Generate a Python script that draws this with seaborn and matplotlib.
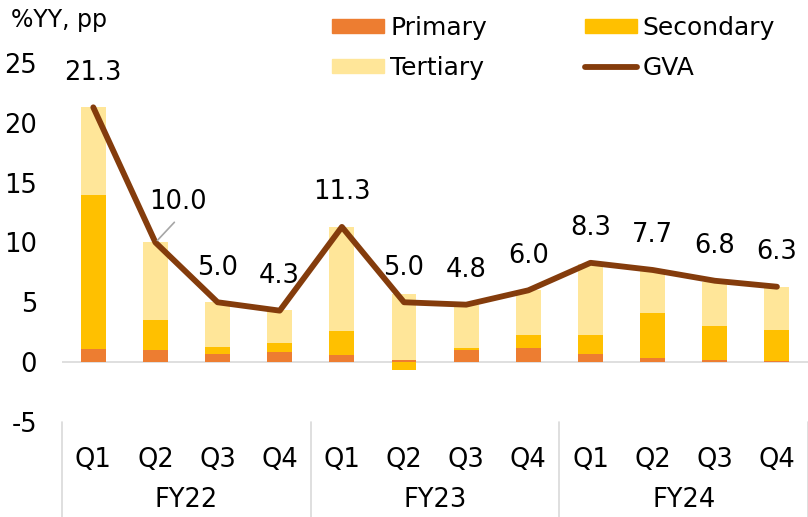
import matplotlib
matplotlib.use("Agg")
import matplotlib.pyplot as plt
import matplotlib.transforms as mtransforms
from matplotlib.patches import Patch
from matplotlib.lines import Line2D
import numpy as np
import pandas as pd
import seaborn as sns

# data
years = ["FY22", "FY23", "FY24"]
quarters = ["Q1", "Q2", "Q3", "Q4"]
primary = [1.1, 1.0, 0.7, 0.85, 0.55, 0.15, 1.0, 1.2, 0.65, 0.35, 0.15, 0.05]
secondary = [12.9, 2.55, 0.55, 0.75, 2.05, -0.7, 0.15, 1.1, 1.65, 3.75, 2.85, 2.6]
tertiary = [7.3, 6.45, 3.75, 2.75, 8.7, 5.5, 3.65, 3.7, 5.9, 3.65, 3.7, 3.6]
gva = [21.3, 10.0, 5.0, 4.3, 11.3, 5.0, 4.8, 6.0, 8.3, 7.7, 6.8, 6.3]

C_PRI = "#ED7D31"
C_SEC = "#FFC000"
C_TER = "#FFE699"
C_GVA = "#843C0C"

sns.set_theme(style="white")
plt.rcParams["font.family"] = ["DejaVu Sans"]
plt.rcParams["text.color"] = "black"
plt.rcParams["xtick.color"] = "black"
plt.rcParams["ytick.color"] = "black"

cats = [f"{y} {q}" for y in years for q in quarters]
p = np.array(primary)
s = np.array(secondary)
t = np.array(tertiary)
s_pos = np.clip(s, 0, None)
s_neg = np.clip(s, None, 0)

df = pd.DataFrame({
    "cat": cats,
    "top_ter": p + s_pos + t,
    "top_sec": p + s_pos,
    "top_pri": p,
    "neg_sec": s_neg,
    "gva": gva,
})

fig = plt.figure(figsize=(8.08, 5.17), dpi=100)
ax = fig.add_axes([0.077, 0.184, 0.923, 0.694])

# stacked bars drawn as layered cumulative heights
for col, c in [("top_ter", C_TER), ("top_sec", C_SEC), ("top_pri", C_PRI), ("neg_sec", C_SEC)]:
    sns.barplot(data=df, x="cat", y=col, color=c, width=0.4, saturation=1,
                order=cats, ax=ax, linewidth=0)

sns.lineplot(data=df, x="cat", y="gva", color=C_GVA, linewidth=4.2, ax=ax,
             solid_capstyle="round", solid_joinstyle="round", sort=False)

ax.axhline(0, color="#D9D9D9", linewidth=1.2, zorder=0.5)

# data labels
offsets = {1: (16, 29)}
for i, v in enumerate(gva):
    dx, dy = offsets.get(i, (0, 25))
    ax.annotate(f"{v:.1f}", (i, v), xytext=(dx, dy), textcoords="offset points",
                ha="center", va="center", fontsize=18.5, color="black")
ax.annotate("", xy=(1, gva[1]), xytext=(15, 16), textcoords="offset points",
            arrowprops=dict(arrowstyle="-", color="#A6A6A6", lw=1.2))

ax.set_ylim(-5, 25)
ax.set_xlim(-0.5, 11.5)
ax.set_yticks(np.arange(-5, 26, 5))
ax.set_yticklabels([str(v) for v in range(-5, 26, 5)], fontsize=18.5)
ax.set_xticks(range(len(cats)))
ax.set_xticklabels(quarters * len(years), fontsize=18.5)
ax.tick_params(axis="y", length=0, pad=18)
ax.tick_params(axis="x", length=0, pad=18)
ax.set_xlabel("")
ax.set_ylabel("")
for sp in ax.spines.values():
    sp.set_visible(False)
ax.grid(False)

# group labels and separators
trans = mtransforms.blended_transform_factory(ax.transData, fig.transFigure)
for k, y in enumerate(years):
    ax.text(k * 4 + 1.5, 0.033, y, transform=trans, ha="center", va="center",
            fontsize=18.5)
for xsep in [-0.5, 3.5, 7.5, 11.5]:
    ax.plot([xsep, xsep], [0.184, 0.0], transform=trans, color="#D9D9D9",
            linewidth=1.2, clip_on=False)

fig.text(0.014, 0.961, "%YY, pp", fontsize=17, ha="left", va="center")

handles = [Patch(color=C_PRI), Patch(color=C_TER), Patch(color=C_SEC),
           Line2D([], [], color=C_GVA, linewidth=4.2, solid_capstyle="round")]
labels = ["Primary", "Tertiary", "Secondary", "GVA"]
fig.legend(handles, labels, ncol=2, loc="upper left", bbox_to_anchor=(0.411, 0.969),
           frameon=False, fontsize=18, handlelength=2.08, handleheight=0.52,
           handletextpad=0.25, columnspacing=3.9, labelspacing=0.64,
           borderpad=0, borderaxespad=0)

fig.savefig("out.png", dpi=100)
